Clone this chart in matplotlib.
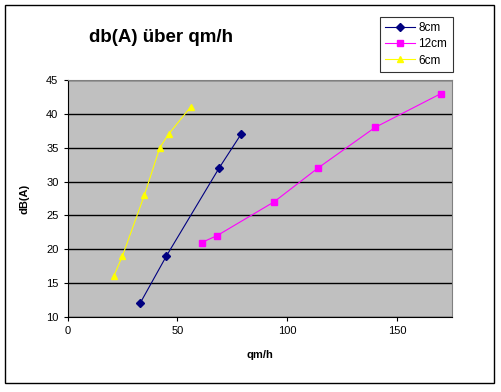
import numpy as np
from matplotlib import pyplot as plt
import matplotlib

plt.rcParams['font.family'] = ['Liberation Sans', 'DejaVu Sans']

# Messwerte
x_8cm  = [33, 45, 69, 79]
y_8cm  = [12, 19, 32, 37]
x_12cm = [61, 68, 94, 114, 140, 170]
y_12cm = [21, 22, 27, 32, 38, 43]
x_6cm  = [21, 25, 35, 42, 46, 56]
y_6cm  = [16, 19, 28, 35, 37, 41]

fig = plt.figure(figsize=(5.01, 3.92), dpi=100)
ax = fig.add_axes([67.5/501, 1-317/392, (452-67.5)/501, (317-80)/392])
ax.set_facecolor('#C0C0C0')

ax.plot(x_8cm, y_8cm, '-D', color='#000080', lw=0.8, ms=4, label='8cm')
ax.plot(x_12cm, y_12cm, '-s', color='#FF00FF', lw=0.8, ms=4.5, label='12cm')
ax.plot(x_6cm, y_6cm, '-^', color='#FFFF00', lw=0.8, ms=5, label='6cm')

ax.set_xlim(0, 175)
ax.set_ylim(10, 45)
ax.set_xticks([0, 50, 100, 150])
ax.set_yticks([10, 15, 20, 25, 30, 35, 40, 45])
ax.yaxis.grid(True, color='black', lw=1)
ax.set_axisbelow(True)
ax.tick_params(labelsize=8, length=3, width=0.8, direction='out')
for s in ['top', 'right']:
    ax.spines[s].set_color('#808080')
for s in ['left', 'bottom']:
    ax.spines[s].set_color('black')

ax.set_xlabel('qm/h', fontsize=8, fontweight='bold', labelpad=10)
ax.set_ylabel('dB(A)', fontsize=8, fontweight='bold', labelpad=12)

fig.text(89/501, 1-38/392, 'db(A) über qm/h', fontsize=13.5, fontweight='bold',
         va='center', ha='left')

leg = fig.legend(loc='upper left', bbox_to_anchor=(380/501, 1-17/392),
                 fontsize=8.5, frameon=True, fancybox=False, edgecolor='black',
                 handlelength=2.5, borderpad=0.45, labelspacing=0.35,
                 handletextpad=0.3, borderaxespad=0)
leg.get_frame().set_linewidth(0.8)

# cadre extérieur
fig.patches.append(matplotlib.patches.Rectangle((5/501, 1-383/392), 489/501, 378/392,
                   transform=fig.transFigure, fill=False, edgecolor='black', lw=1))

plt.savefig('out.png', dpi=100)
